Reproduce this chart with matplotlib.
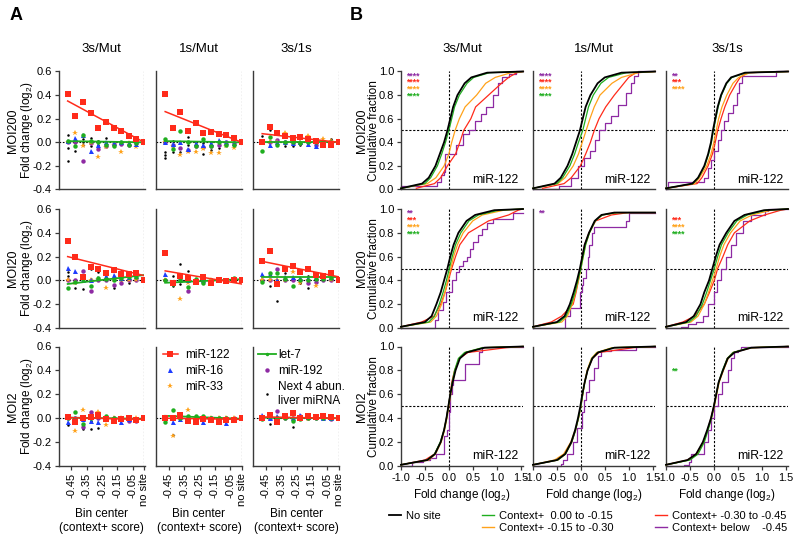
import matplotlib
matplotlib.use("Agg")
import matplotlib.pyplot as plt
from matplotlib.lines import Line2D
import numpy as np

plt.rcParams["font.family"] = ["Liberation Sans", "DejaVu Sans"]
plt.rcParams["mathtext.default"] = "regular"
plt.rcParams["axes.unicode_minus"] = False

RATIOS = ["3s/Mut", "1s/Mut", "3s/1s"]
MOIS = ["MOI200", "MOI20", "MOI2"]
BIN_TICKS = [0.5, 2.5, 4.5, 6.5, 8.5, 10]
BIN_LABELS = ["-0.45", "-0.35", "-0.25", "-0.15", "-0.05", "no site"]

# ---- panel A: mean fold change per context+ bin (10 bins, + "no site" for miR-122)
MIR122_MOI200 = [[0.41, 0.22, 0.34, 0.25, 0.12, 0.175, 0.12, 0.095, 0.055, 0.025, 0.0],
                 [0.41, 0.12, 0.26, 0.095, 0.16, 0.075, 0.085, 0.07, 0.06, 0.04, 0.0],
                 [0.0, 0.13, 0.075, 0.05, 0.04, 0.048, 0.03, 0.012, -0.02, -0.02, 0.0]]
MIR122_MOI20 = [[0.33, 0.2, 0.03, 0.11, 0.1, 0.06, 0.09, 0.055, 0.05, 0.06, 0.0],
                [0.23, -0.02, 0.035, 0.02, -0.01, 0.03, -0.02, 0.0, -0.005, 0.005, 0.0],
                [0.165, 0.25, -0.03, 0.1, 0.125, 0.07, 0.1, 0.045, 0.04, 0.06, 0.0]]
MIR122_MOI2 = [[0.01, -0.03, 0.0, 0.01, 0.03, -0.005, -0.02, -0.01, 0.0, -0.015, 0.0],
               [0.0, 0.0, 0.025, -0.025, -0.03, -0.005, -0.015, -0.03, -0.015, -0.015, 0.0],
               [0.0, 0.03, -0.03, 0.02, 0.04, 0.005, 0.015, 0.01, 0.02, 0.008, 0.0]]
# regression line ends (first bin, no site)
MIR122_FIT = [[(0.35, 0.0), (0.26, 0.0), (0.073, 0.0)],
              [(0.2, 0.04), (0.08, -0.03), (0.16, 0.03)],
              [(0.005, -0.01), (0.0, -0.01), (0.01, 0.0)]]
LET7_FIT = [[(0.01, 0.0), (0.01, 0.0), (0.0, 0.0)],
            [(-0.03, 0.045), (-0.02, 0.01), (0.025, 0.025)],
            [(0.005, -0.005), (0.02, -0.005), (0.005, 0.0)]]

MIR16_MOI200 = [[0.01, 0.035, 0.06, -0.075, -0.02, 0.0, -0.01, 0.0, -0.005, -0.015],
                [0.0, -0.015, 0.0, -0.06, -0.01, -0.02, -0.005, 0.02, 0.0, -0.01],
                [0.0, -0.02, 0.0, 0.005, -0.01, 0.0, -0.015, -0.03, -0.01, 0.0]]
MIR16_MOI20 = [[0.105, 0.075, 0.0, 0.0, 0.02, 0.04, 0.045, 0.02, 0.03, 0.04],
               [0.055, -0.02, 0.0, 0.0, -0.01, 0.0, -0.01, 0.0, 0.0, 0.0],
               [0.055, 0.055, 0.0, 0.03, 0.03, 0.02, 0.02, 0.03, 0.045, 0.03]]
MIR16_MOI2 = [[-0.035, 0.0, -0.01, -0.025, -0.03, 0.0, 0.0, -0.035, -0.01, -0.01],
              [0.0, -0.03, -0.01, 0.0, -0.03, -0.035, 0.0, -0.01, -0.04, -0.01],
              [0.03, 0.0, 0.02, 0.02, 0.0, 0.025, 0.01, 0.01, 0.0, 0.0]]

MIR33_MOI200 = [[0.0, 0.075, -0.035, -0.01, -0.125, -0.04, -0.02, -0.08, -0.01, -0.04],
                [0.0, -0.03, -0.11, -0.085, -0.085, -0.06, -0.09, -0.09, -0.03, -0.05],
                [0.0, 0.0, 0.0, 0.08, 0.0, 0.0, 0.05, 0.0, 0.03, 0.01]]
MIR33_MOI20 = [[0.0, -0.02, 0.03, 0.0, 0.01, -0.06, 0.0, 0.0, 0.0, 0.005],
               [0.0, -0.02, -0.155, -0.02, 0.0, -0.01, 0.0, 0.0, -0.01, 0.0],
               [0.0, 0.0, 0.0, 0.0, 0.07, -0.02, 0.0, -0.05, 0.02, 0.0]]
MIR33_MOI2 = [[0.0, -0.11, 0.07, 0.0, 0.05, -0.055, 0.0, 0.0, 0.0, 0.0],
              [0.0, -0.145, 0.0, 0.07, 0.0, 0.0, 0.0, 0.0, 0.0, 0.005],
              [0.0, 0.0, 0.0, 0.0, 0.0, 0.0, -0.01, 0.0, 0.0, 0.0]]

LET7_MOI200 = [[0.01, -0.035, 0.06, 0.01, 0.005, -0.02, -0.035, 0.0, -0.025, -0.005],
               [0.03, -0.06, 0.095, 0.0, -0.03, 0.025, -0.03, 0.0, -0.02, -0.02],
               [-0.07, 0.045, -0.025, 0.0, 0.0, -0.01, 0.0, 0.0, 0.0, 0.0]]
LET7_MOI20 = [[-0.06, -0.01, 0.01, -0.045, 0.02, 0.01, 0.0, 0.02, 0.03, 0.03],
              [0.0, -0.03, 0.0, -0.055, 0.015, -0.02, -0.02, 0.0, 0.005, 0.02],
              [-0.01, 0.065, 0.065, 0.01, -0.045, 0.0, 0.0, 0.01, 0.01, 0.02]]
LET7_MOI2 = [[0.0, 0.055, -0.05, 0.0, 0.02, 0.02, 0.0, 0.0, 0.0, -0.005],
             [-0.03, 0.07, 0.0, 0.015, 0.015, 0.015, 0.0, 0.0, 0.0, -0.01],
             [-0.01, 0.02, 0.0, 0.0, -0.02, -0.005, 0.0, 0.0, 0.0, 0.0]]

MIR192_MOI200 = [[0.0, 0.0, -0.155, -0.01, -0.055, -0.035, -0.015, -0.015, -0.02, -0.01],
                 [0.0, -0.02, -0.045, -0.065, -0.03, -0.04, -0.03, -0.02, 0.0, -0.01],
                 [0.0, 0.0, 0.02, 0.005, -0.01, -0.01, 0.0, -0.02, -0.01, 0.0]]
MIR192_MOI20 = [[0.0, 0.0, 0.08, -0.085, 0.0, 0.0, -0.035, -0.02, 0.0, 0.0],
                [0.0, -0.02, 0.0, -0.085, -0.01, 0.0, 0.0, 0.015, 0.0, 0.0],
                [0.0, 0.0, 0.095, 0.0, 0.0, 0.0, -0.025, -0.01, 0.0, 0.0]]
MIR192_MOI2 = [[0.0, 0.0, -0.07, 0.05, 0.0, 0.0, 0.0, -0.01, -0.02, -0.02],
               [0.0, 0.0, 0.0, 0.0, 0.0, 0.0, 0.005, 0.0, 0.0, 0.0],
               [0.0, 0.0, 0.06, 0.0, 0.0, 0.02, 0.0, 0.0, 0.0, -0.005]]

# next 4 abundant liver miRNAs (visible dots only, None = hidden)
NEXT4_MOI200 = [[[0.06, -0.07, 0.0, 0.04, 0.0, 0.04, -0.01, 0.0, 0.0, 0.0],
                 [-0.05, 0.02, 0.03, -0.03, -0.02, -0.03, None, -0.01, -0.015, -0.01],
                 [-0.16, None, -0.02, None, 0.01, None, None, None, None, None]],
                [[-0.08, -0.085, -0.08, 0.045, -0.02, -0.1, -0.065, -0.05, 0.0, -0.01],
                 [-0.11, 0.01, -0.05, -0.02, 0.0, -0.01, 0.0, 0.0, -0.02, 0.0],
                 [-0.13, None, None, None, None, None, None, None, None, None]],
                [[0.05, 0.1, 0.0, -0.035, -0.03, -0.02, 0.0, 0.0, 0.0, 0.025],
                 [0.02, 0.0, 0.02, 0.0, 0.0, 0.0, 0.01, -0.01, None, None]]]
NEXT4_MOI20 = [[[0.07, -0.06, -0.07, 0.1, 0.07, 0.0, -0.06, 0.075, 0.0, 0.02],
                [0.035, 0.0, 0.0, 0.01, 0.0, 0.03, 0.0, 0.0, -0.02, 0.0]],
               [[0.0, 0.035, 0.135, 0.08, 0.0, 0.0, 0.01, 0.0, 0.0, 0.0],
                [None, -0.045, -0.03, 0.04, -0.025, None, -0.02, None, None, None]],
               [[0.0, -0.045, -0.17, 0.06, 0.0, -0.02, -0.06, 0.06, 0.02, 0.0],
                [None, 0.0, 0.0, 0.0, None, None, 0.04, None, None, None]]]
NEXT4_MOI2 = [[[-0.055, 0.0, 0.02, -0.09, -0.085, 0.0, 0.0, 0.0, 0.0, 0.0],
               [None, None, -0.09, -0.02, None, None, None, None, None, None]],
              [[0.0, -0.14, 0.0, 0.0, 0.0, 0.0, 0.0, 0.0, 0.0, 0.0],
               [None, 0.02, None, None, None, None, None, None, None, None]],
              [[0.0, -0.045, 0.0, 0.0, -0.075, 0.0, 0.0, 0.0, 0.0, 0.0]]]

# ---- panel B: cumulative distributions, fold change at each cumulative level
CDF_LEVELS = [0.01, 0.05, 0.1, 0.2, 0.3, 0.4, 0.5, 0.6, 0.7, 0.8, 0.9, 0.95, 0.99, 1.0]
CDF_LEVELS_TOP97 = [0.01, 0.05, 0.1, 0.2, 0.3, 0.4, 0.5, 0.6, 0.7, 0.8, 0.9, 0.95, 0.97, 0.97]
LEVELS = [[CDF_LEVELS, CDF_LEVELS, CDF_LEVELS],
          [CDF_LEVELS, CDF_LEVELS_TOP97, CDF_LEVELS],
          [CDF_LEVELS, CDF_LEVELS, CDF_LEVELS]]

NOSITE_MOI200 = [[-1.0, -0.56, -0.42, -0.28, -0.19, -0.1, -0.03, 0.03, 0.09, 0.18, 0.33, 0.47, 0.8, 1.55],
                 [-1.0, -0.55, -0.42, -0.28, -0.18, -0.1, -0.02, 0.04, 0.1, 0.2, 0.35, 0.5, 0.85, 1.55],
                 [-1.0, -0.45, -0.33, -0.2, -0.12, -0.06, -0.02, 0.03, 0.08, 0.15, 0.26, 0.36, 0.65, 1.55]]
CTX1_MOI200 = [[-1.0, -0.5, -0.38, -0.24, -0.15, -0.07, 0.0, 0.06, 0.12, 0.22, 0.38, 0.52, 0.85, 1.55],
               [-1.0, -0.5, -0.38, -0.23, -0.13, -0.05, 0.04, 0.1, 0.16, 0.26, 0.42, 0.58, 0.95, 1.55],
               [-1.0, -0.44, -0.32, -0.19, -0.11, -0.05, -0.01, 0.04, 0.09, 0.16, 0.27, 0.38, 0.68, 1.55]]
CTX2_MOI200 = [[-1.0, -0.45, -0.27, -0.1, 0.0, 0.06, 0.13, 0.22, 0.34, 0.58, 0.77, 0.97, 1.3, 1.55],
               [-1.0, -0.48, -0.33, -0.16, -0.05, 0.03, 0.11, 0.19, 0.28, 0.4, 0.65, 0.85, 1.2, 1.55],
               [-1.0, -0.4, -0.3, -0.15, -0.06, 0.0, 0.05, 0.1, 0.17, 0.27, 0.4, 0.52, 0.75, 1.55]]
CTX3_MOI200 = [[-0.68, -0.3, -0.17, -0.03, 0.14, 0.23, 0.31, 0.46, 0.56, 0.83, 1.1, 1.25, 1.42, 1.55],
               [-0.8, -0.35, -0.2, -0.01, 0.1, 0.2, 0.28, 0.38, 0.52, 0.7, 0.9, 1.0, 1.15, 1.55],
               [-1.0, -0.35, -0.25, -0.12, -0.03, 0.03, 0.08, 0.15, 0.23, 0.33, 0.47, 0.55, 0.7, 1.55]]
BELOW_X_MOI200 = [[-1.0, -0.25, -0.17, -0.1, -0.07, 0.05, 0.15, 0.3, 0.42, 0.55, 0.68, 0.78, 0.92, 1.02, 1.12, 1.25, 1.4, 1.55],
                  [-1.0, -0.45, -0.2, -0.05, 0.07, 0.2, 0.3, 0.38, 0.5, 0.63, 0.77, 0.94, 1.05, 1.12, 1.19, 1.55],
                  [-1.0, -0.96, -0.3, -0.2, -0.12, -0.05, 0.01, 0.08, 0.14, 0.22, 0.3, 0.4, 0.48, 0.53, 0.58, 1.3, 1.55]]
BELOW_Y_MOI200 = [[0.03, 0.06, 0.12, 0.15, 0.3, 0.3, 0.38, 0.47, 0.5, 0.58, 0.64, 0.7, 0.8, 0.9, 0.95, 0.98, 1.0, 1.0],
                  [0.0, 0.03, 0.1, 0.2, 0.27, 0.33, 0.42, 0.5, 0.56, 0.62, 0.72, 0.82, 0.9, 0.96, 1.0, 1.0],
                  [0.0, 0.06, 0.06, 0.1, 0.18, 0.25, 0.33, 0.42, 0.5, 0.58, 0.65, 0.72, 0.82, 0.9, 0.96, 1.0, 1.0]]

NOSITE_MOI20 = [[-1.0, -0.5, -0.36, -0.26, -0.17, -0.1, -0.03, 0.03, 0.1, 0.2, 0.37, 0.55, 0.95, 1.55],
                [-1.0, -0.5, -0.34, -0.23, -0.15, -0.08, -0.02, 0.03, 0.08, 0.17, 0.29, 0.43, 0.7, 1.55],
                [-1.0, -0.58, -0.42, -0.28, -0.2, -0.1, -0.03, 0.04, 0.12, 0.26, 0.43, 0.64, 1.05, 1.55]]
CTX1_MOI20 = [[-1.0, -0.42, -0.3, -0.2, -0.12, -0.05, 0.01, 0.07, 0.14, 0.25, 0.42, 0.62, 1.05, 1.55],
              [-1.0, -0.45, -0.31, -0.2, -0.12, -0.06, 0.0, 0.05, 0.1, 0.18, 0.3, 0.45, 0.75, 1.55],
              [-1.0, -0.52, -0.37, -0.24, -0.15, -0.07, 0.01, 0.08, 0.16, 0.3, 0.48, 0.7, 1.1, 1.55]]
CTX2_MOI20 = [[-1.0, -0.38, -0.26, -0.15, -0.08, -0.02, 0.04, 0.1, 0.18, 0.3, 0.5, 0.7, 1.15, 1.55],
              [-1.0, -0.4, -0.28, -0.18, -0.11, -0.05, 0.0, 0.05, 0.1, 0.18, 0.3, 0.45, 0.8, 1.55],
              [-1.0, -0.48, -0.33, -0.2, -0.11, -0.03, 0.05, 0.12, 0.21, 0.35, 0.55, 0.8, 1.2, 1.55]]
CTX3_MOI20 = [[-1.0, -0.57, -0.31, -0.17, -0.08, -0.01, 0.06, 0.14, 0.23, 0.41, 0.83, 1.25, 1.45, 1.55],
              [-1.0, -0.62, -0.4, -0.16, -0.1, -0.05, -0.01, 0.03, 0.08, 0.17, 0.31, 0.64, 1.0, 1.55],
              [-1.0, -0.65, -0.4, -0.2, -0.09, 0.01, 0.08, 0.19, 0.29, 0.43, 0.75, 1.06, 1.4, 1.55]]
BELOW_X_MOI20 = [[-1.0, -0.33, -0.28, -0.22, -0.12, -0.05, 0.06, 0.16, 0.22, 0.3, 0.37, 0.44, 0.51, 0.6, 0.69, 0.79, 0.93, 1.35, 1.55],
                 [-1.0, -0.4, -0.33, -0.23, -0.09, -0.02, 0.02, 0.05, 0.1, 0.14, 0.17, 0.24, 0.27, 0.9, 0.95, 1.0, 1.55],
                 [-1.0, -0.68, -0.55, -0.37, -0.23, -0.12, 0.0, 0.07, 0.15, 0.26, 0.36, 0.47, 0.6, 0.78, 1.06, 1.13, 1.55]]
BELOW_Y_MOI20 = [[0.0, 0.0, 0.07, 0.15, 0.22, 0.3, 0.4, 0.47, 0.52, 0.56, 0.6, 0.66, 0.72, 0.78, 0.83, 0.88, 0.92, 0.97, 0.97],
                 [0.0, 0.0, 0.1, 0.17, 0.17, 0.3, 0.36, 0.42, 0.5, 0.6, 0.7, 0.8, 0.85, 0.85, 0.9, 0.97, 0.97],
                 [0.0, 0.01, 0.03, 0.05, 0.1, 0.2, 0.3, 0.4, 0.5, 0.6, 0.7, 0.8, 0.9, 0.95, 0.98, 1.0, 1.0]]

NOSITE_MOI2 = [[-1.0, -0.45, -0.29, -0.17, -0.1, -0.05, -0.01, 0.03, 0.08, 0.14, 0.23, 0.37, 0.75, 1.55],
               [-1.0, -0.5, -0.33, -0.2, -0.12, -0.06, -0.01, 0.03, 0.08, 0.14, 0.24, 0.36, 0.7, 1.55],
               [-1.0, -0.55, -0.37, -0.23, -0.14, -0.06, 0.0, 0.05, 0.1, 0.19, 0.29, 0.43, 0.78, 1.55]]
CTX1_MOI2 = [[-1.0, -0.45, -0.3, -0.18, -0.1, -0.05, -0.01, 0.03, 0.07, 0.12, 0.2, 0.33, 0.7, 1.55],
             [-1.0, -0.48, -0.32, -0.19, -0.11, -0.05, 0.0, 0.04, 0.08, 0.14, 0.23, 0.35, 0.68, 1.55],
             [-1.0, -0.5, -0.33, -0.2, -0.12, -0.05, 0.0, 0.05, 0.1, 0.18, 0.28, 0.4, 0.75, 1.55]]
CTX2_MOI2 = [[-1.0, -0.42, -0.28, -0.16, -0.09, -0.04, 0.0, 0.04, 0.08, 0.13, 0.21, 0.34, 0.72, 1.55],
             [-1.0, -0.55, -0.36, -0.21, -0.12, -0.05, 0.0, 0.04, 0.08, 0.13, 0.22, 0.33, 0.65, 1.55],
             [-1.0, -0.52, -0.35, -0.21, -0.13, -0.05, 0.01, 0.06, 0.11, 0.2, 0.3, 0.42, 0.75, 1.55]]
CTX3_MOI2 = [[-1.0, -0.5, -0.3, -0.17, -0.1, -0.05, -0.01, 0.03, 0.06, 0.12, 0.22, 0.4, 1.2, 1.55],
             [-1.0, -0.48, -0.32, -0.19, -0.11, -0.05, 0.0, 0.04, 0.08, 0.14, 0.24, 0.38, 1.1, 1.55],
             [-1.0, -0.55, -0.37, -0.22, -0.13, -0.06, 0.0, 0.05, 0.1, 0.19, 0.28, 0.4, 0.8, 1.55]]
BELOW_X_MOI2 = [[-1.0, -0.78, -0.55, -0.4, -0.26, -0.1, -0.04, 0.0, 0.03, 0.06, 0.09, 0.27, 0.34, 0.55, 0.62, 0.7, 1.55],
                [-1.0, -0.42, -0.38, -0.28, -0.17, -0.07, 0.02, 0.07, 0.1, 0.17, 0.28, 0.35, 0.42, 0.63, 1.15, 1.55],
                [-1.0, -0.62, -0.52, -0.48, -0.3, -0.2, -0.13, -0.06, 0.01, 0.08, 0.17, 0.29, 0.36, 0.42, 0.5, 0.57, 1.55]]
BELOW_Y_MOI2 = [[0.0, 0.03, 0.05, 0.07, 0.1, 0.25, 0.3, 0.45, 0.6, 0.68, 0.72, 0.72, 0.85, 0.85, 0.95, 1.0, 1.0],
                [0.0, 0.02, 0.05, 0.1, 0.2, 0.32, 0.45, 0.55, 0.62, 0.72, 0.82, 0.92, 0.96, 0.97, 1.0, 1.0],
                [0.0, 0.01, 0.03, 0.1, 0.1, 0.2, 0.3, 0.4, 0.5, 0.6, 0.7, 0.8, 0.9, 0.95, 0.97, 1.0, 1.0]]

# significance stars, order: below -0.45, -0.30 to -0.45, -0.15 to -0.30, 0.00 to -0.15
SIG_MOI200 = [["****", "****", "****", "****"], ["****", "****", "****", "****"], ["**", "***", "****", ""]]
SIG_MOI20 = [["**", "***", "****", "****"], ["**", "", "", ""], ["", "***", "****", "****"]]
SIG_MOI2 = [["", "", "", ""], ["", "", "", ""], ["", "", "", "**"]]

RED = "#ff2b1a"
BLUE = "#1e3cff"
ORANGE = "#ffa21a"
GREEN = "#1fae1f"
PURPLE = "#8e2aa3"
SPINE = "#3a3a3a"
SIG_COLORS = [PURPLE, RED, ORANGE, GREEN]

W, H = 800, 540


def px_rect(left, top, width, bottom):
    return [left / W, 1 - bottom / H, width / W, (bottom - top) / H]


def style(ax):
    for s in ("top", "right"):
        ax.spines[s].set_visible(False)
    for s in ("left", "bottom"):
        ax.spines[s].set_color(SPINE)
        ax.spines[s].set_linewidth(1.0)
    ax.tick_params(color=SPINE, width=0.9, length=3, labelsize=8, pad=2)


fig = plt.figure(figsize=(8, 5.4), dpi=100)

A_LEFTS = [58.5, 156, 253]
B_LEFTS = [401, 533, 666]
ROWS = [(71.5, 189.5), (209, 328), (346.5, 466)]

A_DATA = [
    (MIR122_MOI200, MIR16_MOI200, MIR33_MOI200, LET7_MOI200, MIR192_MOI200, NEXT4_MOI200),
    (MIR122_MOI20, MIR16_MOI20, MIR33_MOI20, LET7_MOI20, MIR192_MOI20, NEXT4_MOI20),
    (MIR122_MOI2, MIR16_MOI2, MIR33_MOI2, LET7_MOI2, MIR192_MOI2, NEXT4_MOI2),
]
B_DATA = [
    (NOSITE_MOI200, CTX1_MOI200, CTX2_MOI200, CTX3_MOI200, BELOW_X_MOI200, BELOW_Y_MOI200, SIG_MOI200),
    (NOSITE_MOI20, CTX1_MOI20, CTX2_MOI20, CTX3_MOI20, BELOW_X_MOI20, BELOW_Y_MOI20, SIG_MOI20),
    (NOSITE_MOI2, CTX1_MOI2, CTX2_MOI2, CTX3_MOI2, BELOW_X_MOI2, BELOW_Y_MOI2, SIG_MOI2),
]

bins = np.arange(11)
for r, (top, bottom) in enumerate(ROWS):
    m122, m16, m33, let7, m192, nxt = A_DATA[r]
    for c in range(3):
        ax = fig.add_axes(px_rect(A_LEFTS[c], top, 86, bottom))
        style(ax)
        ax.set_xlim(-1.2, 10.05)
        ax.set_ylim(-0.4, 0.6)
        ax.axhline(0, color="black", lw=0.8, ls=(0, (1.5, 1.5)), zorder=1)
        ax.axvline(10, color="black", lw=0.8, ls=(0, (1.5, 1.5)), zorder=1)
        for row_vals in nxt[c]:
            ax.plot(bins[:10], np.array(row_vals, dtype=float), "o", color="black", ms=1.8, mew=0, zorder=2)
        ax.plot(bins[:10], m192[c], "o", color=PURPLE, ms=3.2, mew=0, zorder=3)
        ax.plot(bins[:10], m33[c], "*", color=ORANGE, ms=4.2, mew=0, zorder=3)
        ax.plot(bins[:10], m16[c], "^", color=BLUE, ms=3.6, mew=0, zorder=3)
        ax.plot(bins[:10], let7[c], "o", color=GREEN, ms=3.2, mew=0, zorder=3)
        ax.plot([0, 10], LET7_FIT[r][c], color=GREEN, lw=1.3, zorder=4)
        ax.plot([0, 10], MIR122_FIT[r][c], color=RED, lw=1.1, zorder=4)
        ax.plot(bins, m122[c], "s", color=RED, ms=4.6, mew=0, zorder=5)
        ax.set_yticks([-0.4, -0.2, 0.0, 0.2, 0.4, 0.6])
        if c == 0:
            ax.set_yticklabels(["-0.4", "-0.2", "0.0", "0.2", "0.4", "0.6"])
        else:
            ax.tick_params(axis="y", left=False, labelleft=False)
        if r == 2:
            ax.set_xticks(BIN_TICKS)
            ax.set_xticklabels(BIN_LABELS, rotation=90)
        else:
            ax.tick_params(axis="x", bottom=False, labelbottom=False)
        if r == 2 and c == 1:
            hs = [Line2D([], [], color=RED, marker="s", ms=4.6, mew=0, lw=1.1),
                  Line2D([], [], color=BLUE, marker="^", ms=3.6, mew=0, ls="none"),
                  Line2D([], [], color=ORANGE, marker="*", ms=4.2, mew=0, ls="none")]
            ax.legend(hs, ["miR-122", "miR-16", "miR-33"], loc="upper left", bbox_to_anchor=(0.0, 1.04),
                      frameon=False, fontsize=8.5, handlelength=1.25, labelspacing=0.35, handletextpad=0.6,
                      borderaxespad=0.2)
        if r == 2 and c == 2:
            hs = [Line2D([], [], color=GREEN, marker="o", ms=2.5, mew=0, lw=1.3),
                  Line2D([], [], color=PURPLE, marker="o", ms=3.2, mew=0, ls="none"),
                  Line2D([], [], color="black", marker="o", ms=1.8, mew=0, ls="none")]
            ax.legend(hs, ["let-7", "miR-192", "Next 4 abun.\nliver miRNA"], loc="upper left",
                      bbox_to_anchor=(-0.02, 1.04), frameon=False, fontsize=8.5, handlelength=1.5,
                      labelspacing=0.35, handletextpad=0.15, borderaxespad=0.2)

    nosite, ctx1, ctx2, ctx3, bx, by, sig = B_DATA[r]
    for c in range(3):
        ax = fig.add_axes(px_rect(B_LEFTS[c], top, 122, bottom))
        style(ax)
        ax.set_xlim(-1.0, 1.55)
        ax.set_ylim(0, 1.0)
        ax.axhline(0.5, color="black", lw=0.8, ls=(0, (2, 1.5)), zorder=1)
        ax.axvline(0.0, color="black", lw=0.8, ls=(0, (2, 1.5)), zorder=1)
        lv = LEVELS[r][c]
        ax.plot(bx[c], by[c], color=PURPLE, lw=0.9, drawstyle="steps-post", zorder=2, clip_on=False)
        ax.plot(ctx3[c], lv, color=RED, lw=0.9, zorder=3, clip_on=False)
        ax.plot(ctx2[c], lv, color=ORANGE, lw=0.9, zorder=3, clip_on=False)
        ax.plot(ctx1[c], lv, color=GREEN, lw=0.9, zorder=4, clip_on=False)
        ax.plot(nosite[c], lv, color="black", lw=1.3, zorder=5, clip_on=False)
        for i, s in enumerate(sig[c]):
            if s:
                ax.text(-0.9, 0.965 - 0.058 * i, s, color=SIG_COLORS[i], fontsize=6.3,
                        fontweight="bold", ha="left", va="center")
        ax.text(1.45, 0.08, "miR-122", fontsize=8.8, ha="right", va="center")
        ax.set_yticks([0, 0.2, 0.4, 0.6, 0.8, 1.0])
        if c == 0:
            ax.set_yticklabels(["0.0", "0.2", "0.4", "0.6", "0.8", "1.0"])
        else:
            ax.tick_params(axis="y", left=False, labelleft=False)
        if r == 2:
            ax.set_xticks([-1.0, -0.5, 0.0, 0.5, 1.0, 1.5])
            ax.set_xticklabels(["-1.0", "-0.5", "0.0", "0.5", "1.0", "1.5"])
            ax.tick_params(axis="x", labelsize=7.8)
        else:
            ax.tick_params(axis="x", bottom=False, labelbottom=False)

# labels
fig.text(16 / W, 1 - 15 / H, "A", fontsize=13, fontweight="bold", ha="center", va="center")
fig.text(356 / W, 1 - 15 / H, "B", fontsize=13, fontweight="bold", ha="center", va="center")
for c, name in enumerate(RATIOS):
    fig.text((A_LEFTS[c] + 43) / W, 1 - 49 / H, name, fontsize=9.5, ha="center", va="center")
    fig.text((B_LEFTS[c] + 61) / W, 1 - 49 / H, name, fontsize=9.5, ha="center", va="center")
    fig.text((A_LEFTS[c] + 43) / W, 1 - 521 / H, "Bin center\n(context+ score)", fontsize=8.5,
             ha="center", va="center", linespacing=1.25)
    fig.text((B_LEFTS[c] + 61) / W, 1 - 495 / H, "Fold change (log$_2$)", fontsize=8.5,
             ha="center", va="center")
for r, (top, bottom) in enumerate(ROWS):
    yc = 1 - (top + bottom) / 2 / H
    fig.text(13 / W, yc, MOIS[r], fontsize=9, rotation=90, ha="center", va="center")
    fig.text(27 / W, yc, "Fold change (log$_2$)", fontsize=8.5, rotation=90, ha="center", va="center")
    fig.text(362 / W, yc, MOIS[r], fontsize=9, rotation=90, ha="center", va="center")
    fig.text(374 / W, yc, "Cumulative fraction", fontsize=8.5, rotation=90, ha="center", va="center")

# bottom legend for panel B
handles = [Line2D([], [], color="black", lw=1.3), Line2D([], [], color="none"),
           Line2D([], [], color=GREEN, lw=1.0), Line2D([], [], color=ORANGE, lw=1.0),
           Line2D([], [], color=RED, lw=1.0), Line2D([], [], color=PURPLE, lw=1.0)]
labels = ["No site", "", "Context+  0.00 to -0.15", "Context+ -0.15 to -0.30",
          "Context+ -0.30 to -0.45", "Context+ below    -0.45"]
fig.legend(handles, labels, ncol=3, loc="upper left", bbox_to_anchor=(389 / W, 1 - 511 / H),
           frameon=False, fontsize=8, handlelength=1.05, handletextpad=0.5, columnspacing=3.7,
           labelspacing=0.15, borderaxespad=0, borderpad=0)

fig.savefig("out.png", dpi=100)
